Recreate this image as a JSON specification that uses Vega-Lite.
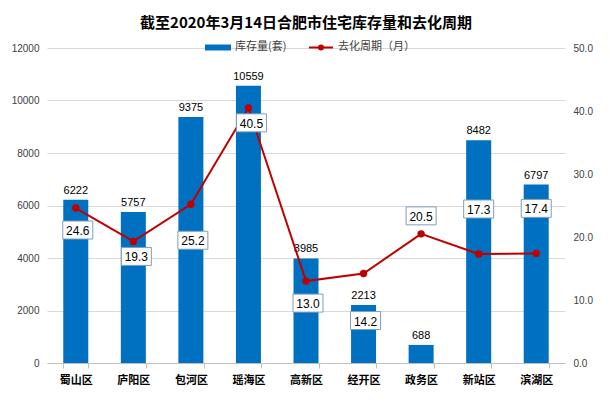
{
  "$schema": "https://vega.github.io/schema/vega-lite/v6.json",
  "width": 518,
  "height": 315,
  "autosize": "none",
  "padding": {"left": 47, "top": 48, "right": 45, "bottom": 38},
  "background": "white",
  "title": {
    "text": "截至2020年3月14日合肥市住宅库存量和去化周期",
    "font": "Noto Sans CJK SC",
    "fontSize": 15,
    "fontWeight": "bold",
    "color": "#000000",
    "anchor": "middle",
    "frame": "group",
    "offset": 3
  },
  "config": {
    "view": {"stroke": null},
    "font": "Noto Sans CJK SC",
    "legend": {
      "orient": "none",
      "legendX": 158,
      "legendY": -14,
      "direction": "horizontal",
      "labelFont": "Noto Sans CJK SC",
      "labelFontSize": 11,
      "labelColor": "#404040",
      "columnPadding": 18,
      "symbolSize": 576,
      "symbolStrokeWidth": 2
    }
  },
  "data": {
    "values": [
      {"区域": "蜀山区", "库存量": 6222, "去化周期": 24.6},
      {"区域": "庐阳区", "库存量": 5757, "去化周期": 19.3},
      {"区域": "包河区", "库存量": 9375, "去化周期": 25.2},
      {"区域": "瑶海区", "库存量": 10559, "去化周期": 40.5},
      {"区域": "高新区", "库存量": 3985, "去化周期": 13.0},
      {"区域": "经开区", "库存量": 2213, "去化周期": 14.2},
      {"区域": "政务区", "库存量": 688, "去化周期": 20.5},
      {"区域": "新站区", "库存量": 8482, "去化周期": 17.3},
      {"区域": "滨湖区", "库存量": 6797, "去化周期": 17.4}
    ]
  },
  "encoding": {
    "x": {
      "field": "区域",
      "type": "nominal",
      "sort": null,
      "title": null,
      "scale": {"paddingInner": 0.56, "paddingOuter": 0.28},
      "axis": {
        "labelAngle": 0,
        "labelFont": "Noto Sans CJK SC",
        "labelFontSize": 11,
        "labelFontWeight": "bold",
        "labelColor": "#000000",
        "labelPadding": 6,
        "domainColor": "#BFBFBF",
        "tickColor": "#BFBFBF",
        "tickBand": "extent",
        "tickSize": 5,
        "grid": false
      }
    }
  },
  "layer": [
    {
      "layer": [
        {
          "mark": {"type": "bar", "color": "#0070C0", "size": 25},
          "encoding": {
            "y": {
              "field": "库存量",
              "type": "quantitative",
              "scale": {"domain": [0, 12000], "nice": false},
              "title": null,
              "axis": {
                "values": [0, 2000, 4000, 6000, 8000, 10000, 12000],
                "format": "d",
                "domain": false,
                "ticks": false,
                "labelFont": "Liberation Sans",
                "labelFontSize": 10,
                "labelColor": "#404040",
                "labelPadding": 8,
                "gridColor": "#D9D9D9"
              }
            },
            "color": {
              "datum": "库存量(套)",
              "type": "nominal",
              "scale": {"domain": ["库存量(套)", "去化周期（月）"], "range": ["#0070C0", "#C00000"]},
              "legend": {
                "title": null,
                "encode": {
                  "symbols": {
                    "update": {
                      "shape": {"signal": "datum.value === '库存量(套)' ? 'M-1,-0.17H1V0.17H-1Z' : 'M-1,0H1M-0.17,0a0.17,0.17 0 1,0 0.34,0a0.17,0.17 0 1,0 -0.34,0'"},
                      "fill": {"signal": "datum.value === '库存量(套)' ? '#0070C0' : '#C00000'"},
                      "stroke": {"signal": "datum.value === '库存量(套)' ? '#0070C0' : '#C00000'"},
                      "strokeWidth": {"value": 2}
                    }
                  }
                }
              }
            }
          }
        },
        {
          "mark": {"type": "text", "dy": -9, "font": "Liberation Sans", "fontSize": 11, "color": "#000000"},
          "encoding": {
            "y": {"field": "库存量", "type": "quantitative"},
            "text": {"field": "库存量", "type": "quantitative", "format": "d"}
          }
        }
      ]
    },
    {
      "layer": [
        {
          "mark": {"type": "line", "color": "#C00000", "strokeWidth": 2},
          "encoding": {
            "y": {
              "field": "去化周期",
              "type": "quantitative",
              "scale": {"domain": [0, 50], "nice": false},
              "title": null,
              "axis": {
                "orient": "right",
                "values": [0, 10, 20, 30, 40, 50],
                "format": ".1f",
                "domain": false,
                "ticks": false,
                "grid": false,
                "labelFont": "Liberation Sans",
                "labelFontSize": 10,
                "labelColor": "#404040",
                "labelPadding": 8
              }
            },
            "color": {"datum": "去化周期（月）", "type": "nominal"}
          }
        },
        {
          "mark": {"type": "point", "filled": true, "color": "#C00000", "size": 55, "opacity": 1},
          "encoding": {
            "y": {"field": "去化周期", "type": "quantitative"}
          }
        },
        {
          "transform": [{"filter": "indexof(['庐阳区','瑶海区'], datum['区域']) >= 0"}],
          "layer": [
            {
              "mark": {"type": "point", "shape": "M-1,-0.6H1V0.6H-1Z", "size": 900, "filled": true, "fill": "white", "stroke": "#7F9DB9", "strokeWidth": 1, "opacity": 1, "yOffset": 15, "xOffset": 3},
              "encoding": {"y": {"field": "去化周期", "type": "quantitative"}}
            },
            {
              "mark": {"type": "text", "font": "Liberation Sans", "fontSize": 12, "color": "#000000", "yOffset": 16, "xOffset": 3},
              "encoding": {
                "y": {"field": "去化周期", "type": "quantitative"},
                "text": {"field": "去化周期", "type": "quantitative", "format": ".1f"}
              }
            }
          ]
        },
        {
          "transform": [{"filter": "indexof(['蜀山区','高新区'], datum['区域']) >= 0"}],
          "layer": [
            {
              "mark": {"type": "point", "shape": "M-1,-0.6H1V0.6H-1Z", "size": 900, "filled": true, "fill": "white", "stroke": "#7F9DB9", "strokeWidth": 1, "opacity": 1, "yOffset": 22, "xOffset": 2},
              "encoding": {"y": {"field": "去化周期", "type": "quantitative"}}
            },
            {
              "mark": {"type": "text", "font": "Liberation Sans", "fontSize": 12, "color": "#000000", "yOffset": 23, "xOffset": 2},
              "encoding": {
                "y": {"field": "去化周期", "type": "quantitative"},
                "text": {"field": "去化周期", "type": "quantitative", "format": ".1f"}
              }
            }
          ]
        },
        {
          "transform": [{"filter": "datum['区域'] === '包河区'"}],
          "layer": [
            {
              "mark": {"type": "point", "shape": "M-1,-0.6H1V0.6H-1Z", "size": 900, "filled": true, "fill": "white", "stroke": "#7F9DB9", "strokeWidth": 1, "opacity": 1, "yOffset": 36, "xOffset": 2},
              "encoding": {"y": {"field": "去化周期", "type": "quantitative"}}
            },
            {
              "mark": {"type": "text", "font": "Liberation Sans", "fontSize": 12, "color": "#000000", "yOffset": 37, "xOffset": 2},
              "encoding": {
                "y": {"field": "去化周期", "type": "quantitative"},
                "text": {"field": "去化周期", "type": "quantitative", "format": ".1f"}
              }
            }
          ]
        },
        {
          "transform": [{"filter": "datum['区域'] === '经开区'"}],
          "layer": [
            {
              "mark": {"type": "point", "shape": "M-1,-0.6H1V0.6H-1Z", "size": 900, "filled": true, "fill": "white", "stroke": "#7F9DB9", "strokeWidth": 1, "opacity": 1, "yOffset": 47, "xOffset": 2},
              "encoding": {"y": {"field": "去化周期", "type": "quantitative"}}
            },
            {
              "mark": {"type": "text", "font": "Liberation Sans", "fontSize": 12, "color": "#000000", "yOffset": 48, "xOffset": 2},
              "encoding": {
                "y": {"field": "去化周期", "type": "quantitative"},
                "text": {"field": "去化周期", "type": "quantitative", "format": ".1f"}
              }
            }
          ]
        },
        {
          "transform": [{"filter": "datum['区域'] === '政务区'"}],
          "layer": [
            {
              "mark": {"type": "point", "shape": "M-1,-0.6H1V0.6H-1Z", "size": 900, "filled": true, "fill": "white", "stroke": "#7F9DB9", "strokeWidth": 1, "opacity": 1, "yOffset": -18},
              "encoding": {"y": {"field": "去化周期", "type": "quantitative"}}
            },
            {
              "mark": {"type": "text", "font": "Liberation Sans", "fontSize": 12, "color": "#000000", "yOffset": -17},
              "encoding": {
                "y": {"field": "去化周期", "type": "quantitative"},
                "text": {"field": "去化周期", "type": "quantitative", "format": ".1f"}
              }
            }
          ]
        },
        {
          "transform": [{"filter": "indexof(['新站区','滨湖区'], datum['区域']) >= 0"}],
          "layer": [
            {
              "mark": {"type": "point", "shape": "M-1,-0.6H1V0.6H-1Z", "size": 900, "filled": true, "fill": "white", "stroke": "#7F9DB9", "strokeWidth": 1, "opacity": 1, "yOffset": -45},
              "encoding": {"y": {"field": "去化周期", "type": "quantitative"}}
            },
            {
              "mark": {"type": "text", "font": "Liberation Sans", "fontSize": 12, "color": "#000000", "yOffset": -44},
              "encoding": {
                "y": {"field": "去化周期", "type": "quantitative"},
                "text": {"field": "去化周期", "type": "quantitative", "format": ".1f"}
              }
            }
          ]
        }
      ]
    }
  ],
  "resolve": {"scale": {"y": "independent"}}
}
